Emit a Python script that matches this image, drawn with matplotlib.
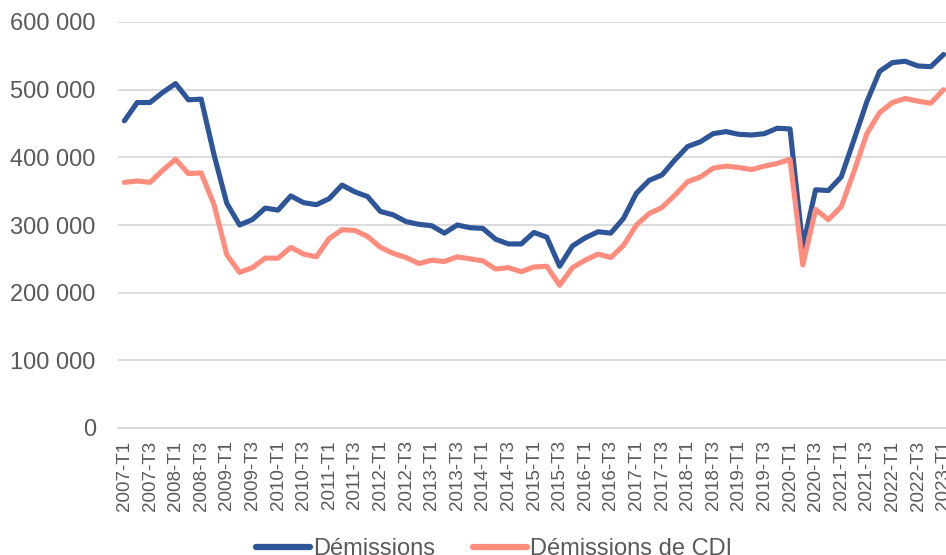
import matplotlib
matplotlib.use("Agg")
import matplotlib.pyplot as plt
from matplotlib.ticker import FuncFormatter, MultipleLocator

plt.rcParams['font.family'] = ['Liberation Sans', 'DejaVu Sans']

# Quarterly categories 2007-T1 .. 2023-T1
quarters = [f"{y}-T{q}" for y in range(2007, 2024) for q in range(1, 5)][:65]

demissions = [
    454000, 481000, 481000, 496000, 509000, 485000, 486000, 404000, 332000, 300000,
    308000, 325000, 322000, 343000, 333000, 330000, 339000, 359000, 349000, 342000,
    320000, 315000, 305000, 301000, 299000, 288000, 300000, 296000, 295000, 279000,
    272000, 272000, 289000, 282000, 239000, 269000, 281000, 290000, 288000, 310000,
    347000, 366000, 374000, 396000, 416000, 423000, 435000, 438000, 434000, 433000,
    435000, 443000, 442000, 268000, 352000, 351000, 371000, 426000, 482000, 527000,
    540000, 542000, 535000, 534000, 552000,
]

demissions_cdi = [
    363000, 365000, 363000, 381000, 397000, 376000, 377000, 330000, 256000, 230000,
    237000, 251000, 251000, 267000, 257000, 253000, 280000, 293000, 292000, 283000,
    267000, 258000, 252000, 243000, 248000, 246000, 253000, 250000, 247000, 235000,
    237000, 231000, 238000, 239000, 211000, 237000, 248000, 257000, 252000, 270000,
    300000, 317000, 326000, 344000, 364000, 371000, 384000, 387000, 385000, 382000,
    387000, 391000, 397000, 241000, 323000, 308000, 327000, 379000, 435000, 466000,
    481000, 487000, 483000, 480000, 500000,
]

series_names = ["Démissions", "Démissions de CDI"]
colors = ["#2E5597", "#FF8C7C"]
text_color = "#595959"

fig = plt.figure(figsize=(9.46, 5.55), dpi=100)
ax = fig.add_axes([118 / 946, 1 - 428 / 555, (950 - 118) / 946, (428 - 22) / 555])

x = list(range(len(quarters)))
ax.plot(x, demissions, color=colors[0], lw=3.7, solid_joinstyle='round',
        solid_capstyle='round', label=series_names[0], zorder=3)
ax.plot(x, demissions_cdi, color=colors[1], lw=3.7, solid_joinstyle='round',
        solid_capstyle='round', label=series_names[1], zorder=4)

ax.set_xlim(-0.5, len(quarters) - 0.5)
ax.set_ylim(0, 600000)
ax.yaxis.set_major_locator(MultipleLocator(100000))
ax.yaxis.set_major_formatter(FuncFormatter(lambda v, p: f"{v:,.0f}".replace(",", " ")))

ax.set_xticks(x[::2])
ax.set_xticklabels(quarters[::2], rotation=90, fontsize=13.5, color=text_color)
ax.tick_params(axis='x', length=0, pad=9)
ax.tick_params(axis='y', length=0, pad=16, labelsize=17, labelcolor=text_color)

ax.grid(axis='y', color="#D9D9D9", lw=1.3)
ax.set_axisbelow(True)
for s in ['top', 'right', 'left']:
    ax.spines[s].set_visible(False)
ax.spines['bottom'].set_color("#D9D9D9")
ax.spines['bottom'].set_linewidth(1.3)

leg = fig.legend(loc='center', bbox_to_anchor=(494 / 946, 1 - 549 / 555), ncol=2,
                 frameon=False, fontsize=17, handlelength=2.3, handletextpad=0.12,
                 columnspacing=1.6, borderaxespad=0, borderpad=0)
for t in leg.get_texts():
    t.set_color(text_color)
for h in leg.get_lines():
    h.set_linewidth(4.5)

fig.savefig("out.png", dpi=100)
